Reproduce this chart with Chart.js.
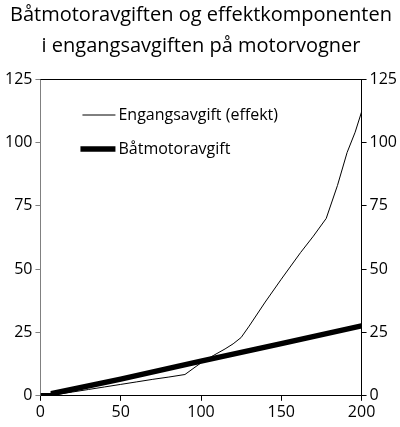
<!DOCTYPE html>
<html>
<head>
<meta charset="utf-8">
<script src="https://cdn.jsdelivr.net/npm/chart.js@4"></script>
<style>
  html, body { margin: 0; padding: 0; background: #fff; }
  #wrap { width: 400px; height: 427px; }
</style>
</head>
<body>
<div id="wrap"><canvas id="c" width="400" height="427"></canvas></div>
<script>
// ---------- data ----------
const engX = [0, 8, 8, 20, 30, 40, 50, 60, 70, 80, 90, 100, 108, 115, 120, 125, 130, 140, 150, 162, 170, 178, 185, 191, 196, 200];
const engY = [0, 0, 0.3, 1.5, 2.5, 3.5, 4.5, 5.5, 6.5, 7.4, 8.4, 13, 16, 18.5, 20.5, 23, 27.5, 37, 46, 56.5, 63, 70, 83, 96, 104, 112];
const batX = [0, 8, 8, 50, 100, 150, 200];
const batY = [0, 0, 1, 6.6, 13.7, 20.6, 27.6];
const yTicks = [0, 25, 50, 75, 100, 125];
const xTicks = [0, 50, 100, 150, 200];
const labels = ['Engangsavgift (effekt)', 'Båtmotoravgift'];
const title = ['Båtmotoravgiften og effektkomponenten', 'i engangsavgiften på motorvogner'];

const FONT = '"Open Sans", sans-serif';
const pts = (xs, ys) => xs.map((x, i) => ({ x, y: ys[i] }));

// legend + top frame line drawn by hand
const extras = {
  id: 'extras',
  afterDraw (ch) {
    const { ctx, chartArea: a } = ch;
    ctx.save();
    ctx.strokeStyle = '#000';
    ctx.lineWidth = 1;
    ctx.beginPath();
    ctx.moveTo(a.left, a.top + 0.5);
    ctx.lineTo(a.right, a.top + 0.5);
    ctx.stroke();

    ch.data.datasets.forEach((ds, i) => {
      const y = a.top + 36 + i * 34;
      ctx.strokeStyle = ds.borderColor;
      ctx.lineWidth = ds.borderWidth;
      ctx.beginPath();
      ctx.moveTo(a.left + 42 - i * 2, y);
      ctx.lineTo(a.left + 75, y);
      ctx.stroke();
      ctx.fillStyle = '#000';
      ctx.font = '16px ' + FONT;
      ctx.textBaseline = 'middle';
      ctx.fillText(ds.label, a.left + 78, y);
    });
    ctx.restore();
  }
};

new Chart(document.getElementById('c'), {
  type: 'line',
  data: {
    datasets: [
      { label: labels[0], data: pts(engX, engY), borderColor: '#000', borderWidth: 1, pointRadius: 0, yAxisID: 'y' },
      { label: labels[1], data: pts(batX, batY), borderColor: '#000', borderWidth: 5.5, pointRadius: 0, yAxisID: 'y' }
    ]
  },
  plugins: [extras],
  options: {
    responsive: false,
    animation: false,
    layout: { padding: { left: 2, right: 0, top: 0, bottom: 3 } },
    plugins: {
      legend: { display: false },
      tooltip: { enabled: false },
      title: {
        display: true,
        text: title,
        color: '#000',
        font: { family: FONT, size: 20, weight: 'normal', lineHeight: 1.55 },
        padding: { top: 0, bottom: 17 }
      }
    },
    scales: {
      x: {
        type: 'linear', min: 0, max: 200,
        afterBuildTicks: s => { s.ticks = xTicks.map(v => ({ value: v })); },
        border: { color: '#000' },
        grid: { drawOnChartArea: false, tickLength: 5, color: '#000' },
        ticks: { color: '#000', font: { family: FONT, size: 16 }, padding: 2, maxRotation: 0 }
      },
      y: {
        position: 'left', min: 0, max: 125,
        afterBuildTicks: s => { s.ticks = yTicks.map(v => ({ value: v })); },
        border: { color: '#808080' },
        grid: { drawOnChartArea: false, tickLength: 5, color: '#808080' },
        ticks: { color: '#000', font: { family: FONT, size: 16 }, padding: 3 }
      },
      y2: {
        position: 'right', min: 0, max: 125,
        afterBuildTicks: s => { s.ticks = yTicks.map(v => ({ value: v })); },
        border: { color: '#000' },
        grid: { drawOnChartArea: false, tickLength: 5, color: '#000' },
        ticks: { color: '#000', font: { family: FONT, size: 16 }, padding: 3 }
      }
    }
  }
});
</script>
</body>
</html>
